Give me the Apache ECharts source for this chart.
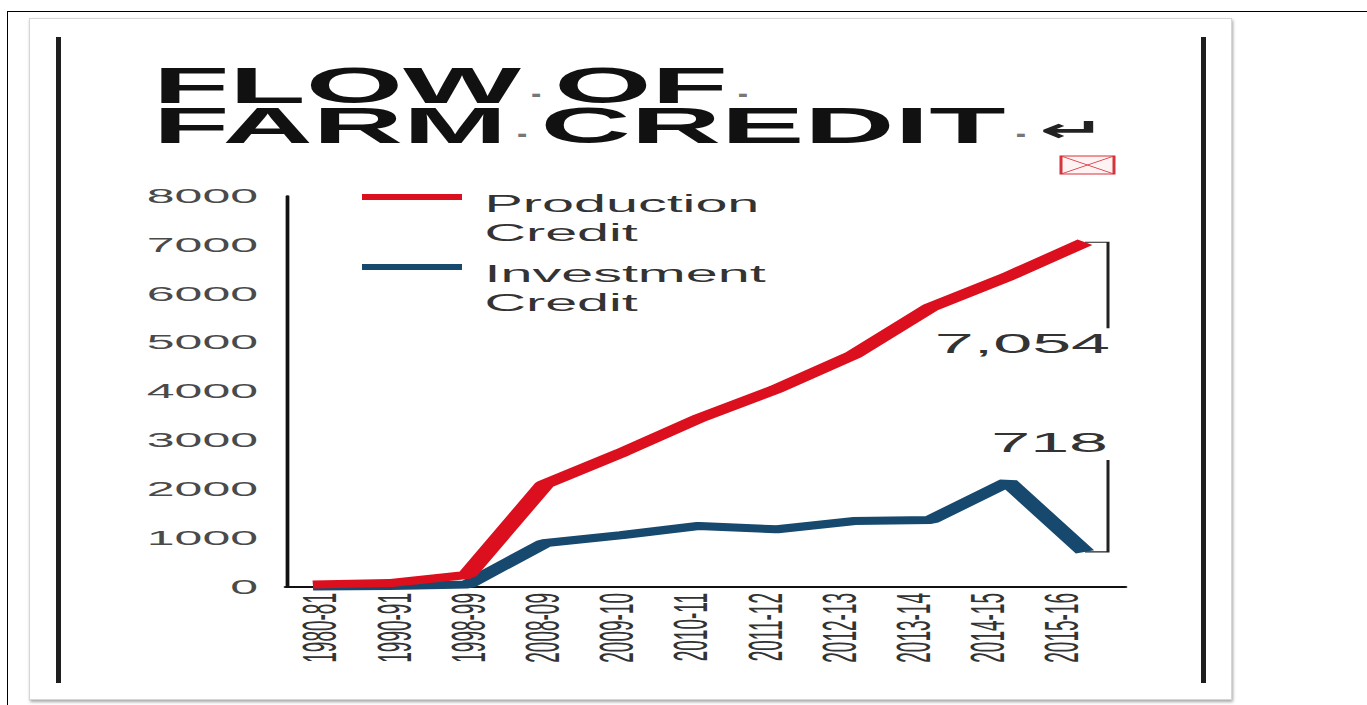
<!DOCTYPE html>
<html>
<head>
<meta charset="utf-8">
<title>Flow of Farm Credit</title>
<script src="https://cdn.jsdelivr.net/npm/echarts@6/dist/echarts.min.js"></script>
<style>
  html, body { margin: 0; padding: 0; background: #fff; overflow: hidden; }
  body { width: 1367px; height: 705px; position: relative; }
  .frame { position: absolute; left: 7px; top: 11px; width: 1400px; height: 720px;
           border-left: 1px solid #000; border-top: 1px solid #000; }
  .panel { position: absolute; left: 29px; top: 18px; width: 1201px; height: 680px; background: #fff;
           border: 1px solid #d6d6d6; box-shadow: 1px 2px 3px rgba(0, 0, 0, 0.35); }
  .rule { position: absolute; top: 37px; width: 5px; height: 646px; background: #1e1e1e; }
  /* the source picture is stretched about 2.5x sideways, so draw narrow and stretch */
  #chart { position: absolute; left: 0; top: 0; width: 547px; height: 705px;
           transform: scaleX(2.5); transform-origin: 0 0; }
</style>
</head>
<body>
<div class="frame"></div>
<div class="panel"></div>
<div class="rule" style="left:56px"></div>
<div class="rule" style="left:1201px"></div>
<div id="chart"></div>
<script>
var categories = ['1980-81', '1990-91', '1998-99', '2008-09', '2009-10', '2010-11',
                  '2011-12', '2012-13', '2013-14', '2014-15', '2015-16'];
var productionCredit = [50, 80, 250, 2100, 2750, 3450, 4050, 4750, 5720, 6350, 7054];
var investmentCredit = [10, 20, 50, 900, 1060, 1250, 1180, 1350, 1370, 2150, 718];
var seriesNames = ['Production Credit', 'Investment Credit'];
var endLabels = ['7,054', '718'];
var yMin = 0, yMax = 8000, yStep = 1000;

var S = 2.5;               // horizontal stretch
var FONT = 'Liberation Sans';
var RED = '#dc0f1e';
var BLUE = '#17496e';

// screen x (px in the photo) -> chart x
function lx(px) { return px / S; }
var W = 547;

var chart = echarts.init(document.getElementById('chart'), null, { renderer: 'svg' });

// bar at the top of a taller icon box (same aspect as the item box),
// so the two text lines sit lower than the bar
var legendIcon = 'path://M0,0H40V6H0Z M0,48.99H0.01V49H0Z';

function legendItem(name, top) {
  return {
    data: [name],
    orient: 'vertical',
    left: lx(362),
    top: top,
    padding: 0,
    icon: legendIcon,
    itemWidth: 40,
    itemHeight: 49,
    selectedMode: false,
    formatter: function (n) { return n.replace(' ', '\n'); },
    textStyle: { fontFamily: FONT, fontSize: 23, color: '#333', lineHeight: 29, padding: [0, 0, 0, 4] }
  };
}

var option = {
  backgroundColor: 'transparent',
  animation: false,
  title: {
    text: '{t|FLOW}{d|·}{t|OF}{d|·}\n{t|FARM}{d|·}{t|CREDIT}{d|·}{a|↵}',
    left: lx(153),
    top: 66,
    padding: 0,
    textStyle: {
      rich: {
        t: { fontFamily: FONT, fontSize: 50, fontWeight: 'bold', color: '#111', lineHeight: 40 },
        d: { fontFamily: FONT, fontSize: 22, color: '#777', lineHeight: 40, padding: [0, 3, 0, 3], verticalAlign: 'bottom' },
        a: { fontFamily: 'DejaVu Sans', fontSize: 32, color: '#222', lineHeight: 40, verticalAlign: 'bottom' }
      }
    }
  },
  legend: [
    legendItem(seriesNames[0], 189.5),
    legendItem(seriesNames[1], 259.5)
  ],
  grid: [
    // lines
    { left: lx(313), right: W - lx(1085), top: 196, bottom: 118 },
    // category labels
    { left: lx(320), right: W - lx(1062), top: 196, bottom: 118 },
    // x axis line
    { left: lx(286), right: W - lx(1125), top: 196, bottom: 118 }
  ],
  xAxis: [
    { gridIndex: 0, type: 'category', data: categories, boundaryGap: false, show: false },
    {
      gridIndex: 1, type: 'category', data: categories, boundaryGap: false,
      axisLine: { show: false }, axisTick: { show: false },
      axisLabel: { rotate: 90, margin: 6, fontFamily: FONT, fontSize: 19, color: '#333' }
    },
    {
      gridIndex: 2, type: 'category', data: categories, boundaryGap: true,
      axisLine: { lineStyle: { color: '#111', width: 2 } },
      axisTick: { inside: true, length: 3, lineStyle: { color: '#111', width: 1 } },
      axisLabel: { show: false }
    }
  ],
  yAxis: [
    {
      gridIndex: 0, type: 'value', min: yMin, max: yMax, interval: yStep,
      offset: lx(313) - lx(286),
      axisLine: { show: true, lineStyle: { color: '#111', width: 1.5 } },
      axisTick: { show: false },
      splitLine: { show: false },
      axisLabel: {
        margin: lx(286) - lx(258), fontFamily: FONT, fontSize: 20, color: '#4a4a4a',
        formatter: function (v) { return String(v); }
      }
    },
    { gridIndex: 1, type: 'value', show: false },
    { gridIndex: 2, type: 'value', show: false }
  ],
  series: [
    {
      name: seriesNames[0], type: 'line', data: productionCredit,
      xAxisIndex: 0, yAxisIndex: 0, symbol: 'none', z: 3,
      lineStyle: { width: 8, color: RED }, itemStyle: { color: RED }
    },
    {
      name: seriesNames[1], type: 'line', data: investmentCredit,
      xAxisIndex: 0, yAxisIndex: 0, symbol: 'none', z: 2,
      lineStyle: { width: 8, color: BLUE }, itemStyle: { color: BLUE }
    }
  ]
};

chart.setOption(option);

// brackets + end values, anchored on the last points
var last = categories.length - 1;
var pRed = chart.convertToPixel({ seriesIndex: 0 }, [last, productionCredit[last]]);
var pBlue = chart.convertToPixel({ seriesIndex: 1 }, [last, investmentCredit[last]]);
var bx = 9.2;
var bracket = { stroke: '#222', lineWidth: 1.2, fill: null };
var endFont = '28px "Liberation Sans"';
var boxW = lx(1113) - lx(1060);

chart.setOption({
  graphic: [
    {
      type: 'polyline',
      shape: { points: [[pRed[0], pRed[1]], [pRed[0] + bx, pRed[1]], [pRed[0] + bx, pRed[1] + 86]] },
      style: bracket
    },
    {
      type: 'text', x: pRed[0] + bx + 0.8, y: pRed[1] + 101,
      style: { text: endLabels[0], font: endFont, fill: '#333', align: 'right', verticalAlign: 'middle' }
    },
    {
      type: 'polyline',
      shape: { points: [[pBlue[0], pBlue[1]], [pBlue[0] + bx, pBlue[1]], [pBlue[0] + bx, pBlue[1] - 92]] },
      style: bracket
    },
    {
      type: 'text', x: pBlue[0] + bx, y: pBlue[1] - 110,
      style: { text: endLabels[1], font: endFont, fill: '#333', align: 'right', verticalAlign: 'middle' }
    },
    // broken picture box under the title
    {
      type: 'group', x: lx(1061), y: 156,
      children: [
        { type: 'rect', shape: { x: 0, y: 0, width: boxW, height: 18 },
          style: { fill: 'rgba(255,230,230,0.5)', stroke: '#d4343c', lineWidth: 1.2 } },
        { type: 'line', shape: { x1: 0, y1: 0, x2: boxW, y2: 18 },
          style: { stroke: '#d4343c', lineWidth: 0.6 } },
        { type: 'line', shape: { x1: 0, y1: 18, x2: boxW, y2: 0 },
          style: { stroke: '#d4343c', lineWidth: 0.6 } }
      ]
    }
  ]
});
</script>
</body>
</html>
